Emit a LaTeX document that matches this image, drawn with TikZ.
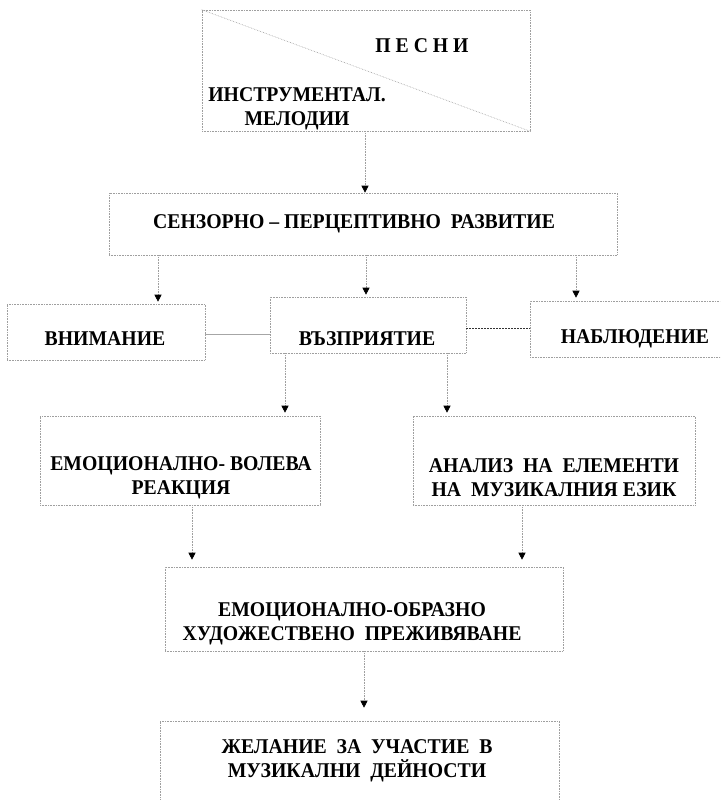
\documentclass[tikz,border=0pt]{standalone}
\usepackage{fontspec}
\setmainfont{Liberation Serif}[FakeStretch=0.94]
\usetikzlibrary{arrows.meta}
\begin{document}
\begin{tikzpicture}[x=1pt,y=-1pt,
  box/.style={draw=gray!75, densely dotted, line width=0.6pt, rectangle, inner sep=0pt},
  lbl/.style={font=\fontsize{21}{24}\selectfont\bfseries, align=center, inner sep=0pt},
  arr/.style={draw=gray!75, densely dotted, line width=0.6pt, -{Triangle[length=7pt,width=7pt,color=black]}}]
\clip (0,0) rectangle (720,800);
\fill[white] (0,0) rectangle (720,800);
% boxes
\node[box, minimum width=328pt, minimum height=121pt] (top) at (366,70.5) {};
\node[box, minimum width=508pt, minimum height=62pt] (sens) at (363,224) {};
\node[box, minimum width=198pt, minimum height=56pt] (vnim) at (106,332) {};
\node[box, minimum width=196pt, minimum height=56pt] (vazp) at (368,325) {};
\node[box, minimum width=200pt, minimum height=56pt] (nabl) at (630,329) {};
\node[box, minimum width=280pt, minimum height=89pt] (emvol) at (180,460.5) {};
\node[box, minimum width=282pt, minimum height=89pt] (anal) at (554,460.5) {};
\node[box, minimum width=398pt, minimum height=84pt] (emobr) at (364,609) {};
\node[box, minimum width=399pt, minimum height=110pt] (zhel) at (359.5,776) {};
\draw[draw=gray!75, densely dotted, line width=0.6pt] (top.north west) -- (top.south east);
% texts
\node[lbl] (tpesni) at (422,46) {П Е С Н И};
\node[lbl] (tinstr) at (297,109) {ИНСТРУМЕНТАЛ.\\МЕЛОДИИ};
\node[lbl] (tsens) at (354,224) {СЕНЗОРНО – ПЕРЦЕПТИВНО\ \ РАЗВИТИЕ};
\node[lbl] (tvnim) at (105,339) {ВНИМАНИЕ};
\node[lbl] (tvazp) at (367,339) {ВЪЗПРИЯТИЕ};
\node[lbl] (tnabl) at (635,339) {НАБЛЮДЕНИЕ};
\node[lbl] (temvol) at (181,478) {ЕМОЦИОНАЛНО- ВОЛЕВА\\РЕАКЦИЯ};
\node[lbl] (tanal) at (554,478) {АНАЛИЗ\ \ НА\ \ ЕЛЕМЕНТИ\\НА\ \ МУЗИКАЛНИЯ ЕЗИК};
\node[lbl] (temobr) at (352,624) {ЕМОЦИОНАЛНО-ОБРАЗНО\\ХУДОЖЕСТВЕНО\ \ ПРЕЖИВЯВАНЕ};
\node[lbl] (tzhel) at (357,761) {ЖЕЛАНИЕ\ \ ЗА\ \ УЧАСТИЕ\ \ В\\МУЗИКАЛНИ\ \ ДЕЙНОСТИ};
% connector x positions
\coordinate (x0) at (365,0);
\coordinate (x1) at (158,0);
\coordinate (x2) at (366,0);
\coordinate (x3) at (576,0);
\coordinate (x4) at (285,0);
\coordinate (x5) at (447,0);
\coordinate (x6) at (192,0);
\coordinate (x7) at (522,0);
\coordinate (x8) at (364,0);
\coordinate (y1) at (0,334);
\coordinate (y2) at (0,328);
% connectors
\draw[arr] (top.south -| x0) -- (sens.north -| x0);
\draw[arr, shorten >=2pt] (sens.south -| x1) -- (vnim.north -| x1);
\draw[arr, shorten >=2pt] (sens.south -| x2) -- (vazp.north -| x2);
\draw[arr, shorten >=3pt] (sens.south -| x3) -- (nabl.north -| x3);
\draw[arr, shorten >=3pt] (vazp.south -| x4) -- (emvol.north -| x4);
\draw[arr, shorten >=3pt] (vazp.south -| x5) -- (anal.north -| x5);
\draw[arr, shorten >=7pt] (emvol.south -| x6) -- (emobr.north -| x6);
\draw[arr, shorten >=7pt] (anal.south -| x7) -- (emobr.north -| x7);
\draw[arr, shorten >=13pt] (emobr.south -| x8) -- (zhel.north -| x8);
\draw[gray!70, line width=0.6pt] (vnim.east |- y1) -- (vazp.west |- y1);
\draw[black!80, dash pattern=on 2pt off 1pt, line width=0.7pt] (vazp.east |- y2) -- (nabl.west |- y2);
\end{tikzpicture}
\end{document}
